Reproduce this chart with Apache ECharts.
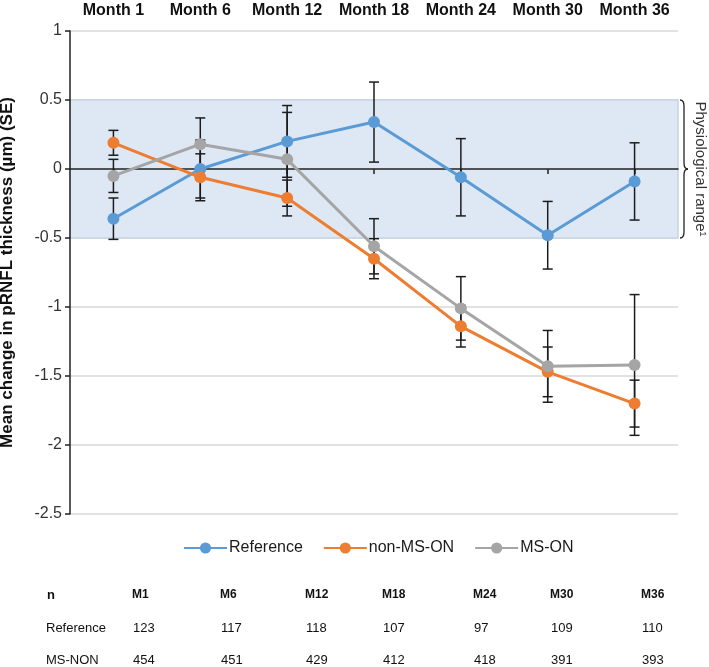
<!DOCTYPE html>
<html><head><meta charset="utf-8">
<script src="https://cdn.jsdelivr.net/npm/echarts@6/dist/echarts.min.js"></script>
<style>html,body{margin:0;padding:0;background:#fff}#c{width:709px;height:667px}</style>
</head><body><div id="c"></div>
<script>
// ---- data ----
const categories = ['Month 1','Month 6','Month 12','Month 18','Month 24','Month 30','Month 36'];
const refMean   = [-0.36, 0.00, 0.20, 0.34, -0.06, -0.48, -0.09];
const refSE     = [0.15, 0.21, 0.26, 0.29, 0.28, 0.245, 0.28];
const nonMsMean = [0.19, -0.06, -0.21, -0.65, -1.14, -1.47, -1.70];
const nonMsSE   = [0.09, 0.17, 0.13, 0.145, 0.15, 0.18, 0.17];
const msMean    = [-0.05, 0.18, 0.07, -0.56, -1.01, -1.43, -1.42];
const msSE      = [0.12, 0.19, 0.34, 0.20, 0.23, 0.26, 0.51];
const physRange = [-0.5, 0.5];
const tableHeader = ['M1','M6','M12','M18','M24','M30','M36'];
const tableRowNames = ['Reference','MS-NON'];
const refN   = [123, 117, 118, 107, 97, 109, 110];
const msNonN = [454, 451, 429, 412, 418, 391, 393];

// ---- layout ----
const FONT = "'Liberation Sans', Arial, sans-serif";
const tableColX = [132, 220, 305, 382, 473, 550, 641];
const tableRowY = [595, 628, 660];

const chart = echarts.init(document.getElementById('c'));

function errData(mean, se) { return mean.map((m, i) => [i, m - se[i], m + se[i]]); }
function errSeries(name, mean, se) {
  return {
    type: 'custom', name: name + ' SE', z: 2, silent: true,
    encode: { x: 0, y: [1, 2] },
    data: errData(mean, se),
    renderItem: function (params, api) {
      const i = api.value(0);
      const lo = api.coord([i, api.value(1)]);
      const hi = api.coord([i, api.value(2)]);
      const hw = 5;
      const st = { stroke: '#1c1c1c', lineWidth: 1.5 };
      return { type: 'group', children: [
        { type: 'line', shape: { x1: lo[0], y1: lo[1], x2: hi[0], y2: hi[1] }, style: st },
        { type: 'line', shape: { x1: lo[0] - hw, y1: lo[1], x2: lo[0] + hw, y2: lo[1] }, style: st },
        { type: 'line', shape: { x1: hi[0] - hw, y1: hi[1], x2: hi[0] + hw, y2: hi[1] }, style: st }
      ]};
    }
  };
}
function lineSeries(name, data, color) {
  return {
    type: 'line', name: name, data: data, z: 3,
    symbol: 'circle', symbolSize: 12, showSymbol: true,
    lineStyle: { color: color, width: 3 }, itemStyle: { color: color },
    emphasis: { disabled: true }
  };
}

const option = {
  animation: false,
  textStyle: { fontFamily: FONT },
  grid: { left: 70, right: 31, top: 31, bottom: 153, outerBoundsMode: 'none', containLabel: false },
  legend: {
    data: ['Reference', 'non-MS-ON', 'MS-ON'],
    top: 535, left: 178,
    itemWidth: 43, itemHeight: 14, itemGap: 20,
    textStyle: { fontSize: 16, color: '#1a1a1a', fontFamily: FONT, padding: [0, 0, 0, -3] }
  },
  xAxis: [
    {
      type: 'category', data: categories, position: 'bottom', boundaryGap: true, z: 1,
      axisLine: { onZero: true, lineStyle: { color: '#222', width: 1.5 } },
      axisTick: { show: true, alignWithLabel: true, length: 5, lineStyle: { color: '#222', width: 1.5 } },
      axisLabel: { show: false }, splitLine: { show: false }
    },
    {
      type: 'category', data: categories, position: 'top', boundaryGap: true,
      axisLine: { show: false }, axisTick: { show: false },
      axisLabel: { show: true, interval: 0, margin: 12, fontSize: 16, fontWeight: 'bold', color: '#111', fontFamily: FONT }
    }
  ],
  yAxis: {
    type: 'value', min: -2.5, max: 1, interval: 0.5, z: 1,
    name: 'Mean change in pRNFL thickness (µm) (SE)',
    nameLocation: 'middle', nameGap: 54,
    nameTextStyle: { fontSize: 17, fontWeight: 'bold', color: '#111', fontFamily: FONT },
    axisLine: { show: true, lineStyle: { color: '#222', width: 1.5 } },
    axisTick: { show: true, length: 5, lineStyle: { color: '#222', width: 1.5 } },
    axisLabel: { fontSize: 16, color: '#333', margin: 8, fontFamily: FONT },
    splitLine: { show: true, lineStyle: { color: '#d9d9d9', width: 1.5 } }
  },
  series: [
    {
      type: 'line', name: 'band', data: [], z: 0, silent: true,
      markArea: {
        silent: true,
        itemStyle: { color: '#dde8f4', borderColor: '#c6d3e2', borderWidth: 1.5 },
        data: [[{ yAxis: physRange[1] }, { yAxis: physRange[0] }]]
      }
    },
    errSeries('Reference', refMean, refSE),
    errSeries('non-MS-ON', nonMsMean, nonMsSE),
    errSeries('MS-ON', msMean, msSE),
    lineSeries('Reference', refMean, '#5b9bd5'),
    lineSeries('non-MS-ON', nonMsMean, '#ed7d31'),
    lineSeries('MS-ON', msMean, '#a5a5a5')
  ]
};
chart.setOption(option);

// ---- annotations: brace + physiological range label, n table ----
const yTop = chart.convertToPixel({ yAxisIndex: 0 }, physRange[1]);
const yBot = chart.convertToPixel({ yAxisIndex: 0 }, physRange[0]);
const yMid = (yTop + yBot) / 2;
const bx = 680, bw = 4;
const braceStyle = { stroke: '#222', lineWidth: 1.3, fill: null };
const graphics = [
  { type: 'bezierCurve', shape: { x1: bx, y1: yTop, cpx1: bx + bw, cpy1: yTop, x2: bx + bw, y2: yTop + 6 }, style: braceStyle },
  { type: 'line', shape: { x1: bx + bw, y1: yTop + 6, x2: bx + bw, y2: yMid - 6 }, style: braceStyle },
  { type: 'bezierCurve', shape: { x1: bx + bw, y1: yMid - 6, cpx1: bx + bw, cpy1: yMid, x2: bx + 2 * bw, y2: yMid }, style: braceStyle },
  { type: 'bezierCurve', shape: { x1: bx + 2 * bw, y1: yMid, cpx1: bx + bw, cpy1: yMid, x2: bx + bw, y2: yMid + 6 }, style: braceStyle },
  { type: 'line', shape: { x1: bx + bw, y1: yMid + 6, x2: bx + bw, y2: yBot - 6 }, style: braceStyle },
  { type: 'bezierCurve', shape: { x1: bx + bw, y1: yBot - 6, cpx1: bx + bw, cpy1: yBot, x2: bx, y2: yBot }, style: braceStyle },
  { type: 'text', x: 700, y: yMid, rotation: -Math.PI / 2,
    style: { text: 'Physiological range¹', font: '15px ' + FONT, fill: '#333', align: 'center', verticalAlign: 'middle' } },
  { type: 'text', x: 47, y: tableRowY[0], style: { text: 'n', font: 'bold 13px ' + FONT, fill: '#111', verticalAlign: 'middle' } }
];
tableHeader.forEach((h, i) => graphics.push({ type: 'text', x: tableColX[i], y: tableRowY[0],
  style: { text: h, font: 'bold 12px ' + FONT, fill: '#111', verticalAlign: 'middle' } }));
[refN, msNonN].forEach((row, r) => {
  graphics.push({ type: 'text', x: 46, y: tableRowY[r + 1],
    style: { text: tableRowNames[r], font: '13px ' + FONT, fill: '#111', verticalAlign: 'middle' } });
  row.forEach((v, i) => graphics.push({ type: 'text', x: tableColX[i] + 1, y: tableRowY[r + 1],
    style: { text: String(v), font: '13px ' + FONT, fill: '#111', verticalAlign: 'middle' } }));
});
chart.setOption({ graphic: graphics });
</script>
</body></html>
